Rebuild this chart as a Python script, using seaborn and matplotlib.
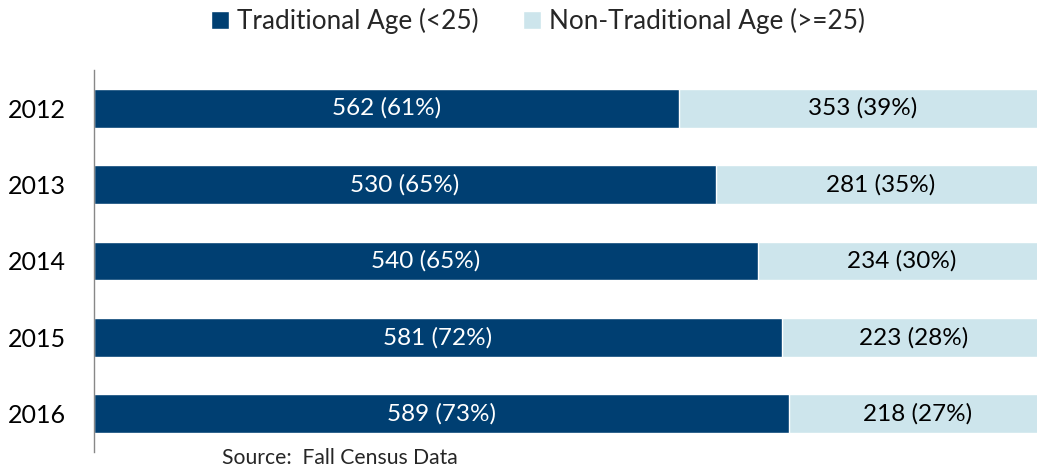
import matplotlib
matplotlib.use("Agg")
import matplotlib.pyplot as plt
import seaborn as sns
import pandas as pd
from matplotlib.patches import Patch

years = ["2012", "2013", "2014", "2015", "2016"]
traditional = [562, 530, 540, 581, 589]
nontraditional = [353, 281, 234, 223, 218]
trad_pct = [61, 65, 65, 72, 73]
nontrad_pct = [39, 35, 30, 28, 27]
labels = ["Traditional Age (<25)", "Non-Traditional Age (>=25)"]
source = "Source:  Fall Census Data"

DARK = "#003F72"
LIGHT = "#CDE5EC"

sns.set_theme(style="white")
plt.rcParams['font.family'] = ['Lato', 'DejaVu Sans']

df = pd.DataFrame({"year": years, "trad": traditional, "non": nontraditional})
df["total"] = df["trad"] + df["non"]
df["trad_share"] = df["trad"] / df["total"]
df["full"] = 1.0

fig = plt.figure(figsize=(10.37, 4.69), dpi=100)
ax = fig.add_axes([94 / 1037, 0.036, 952 / 1037, 0.815])

sns.barplot(data=df, y="year", x="full", color=LIGHT, orient="h", width=0.51,
            ax=ax, saturation=1)
sns.barplot(data=df, y="year", x="trad_share", color=DARK, orient="h", width=0.51,
            ax=ax, saturation=1)

for i, row in df.iterrows():
    s = row["trad_share"]
    ax.text(s / 2, i, f"{row['trad']} ({trad_pct[i]}%)", ha="center", va="center",
            color="white", fontsize=17.5)
    ax.text(s + (1 - s) / 2, i, f"{row['non']} ({nontrad_pct[i]}%)", ha="center",
            va="center", color="black", fontsize=17.5)

ax.set_xlim(0, 1)
ax.set_ylim(4.5, -0.5)
ax.set_xlabel("")
ax.set_ylabel("")
ax.set_xticks([])
ax.tick_params(axis="y", labelsize=18, length=0, pad=20, colors="black")
for sp in ["top", "right", "bottom"]:
    ax.spines[sp].set_visible(False)
ax.spines["left"].set_color("#888888")
ax.spines["left"].set_linewidth(1)

handles = [Patch(facecolor=DARK, label=labels[0]), Patch(facecolor=LIGHT, label=labels[1])]
fig.legend(handles=handles, loc="center", bbox_to_anchor=(0.5185, 0.955), ncol=2,
           frameon=False, fontsize=18.8, handlelength=0.7, handleheight=0.7,
           handletextpad=0.3, columnspacing=1.7)

fig.text(222 / 1037, 1 - 458 / 469, source, ha="left", va="center", fontsize=15.2)

fig.savefig("out.png", dpi=100)
